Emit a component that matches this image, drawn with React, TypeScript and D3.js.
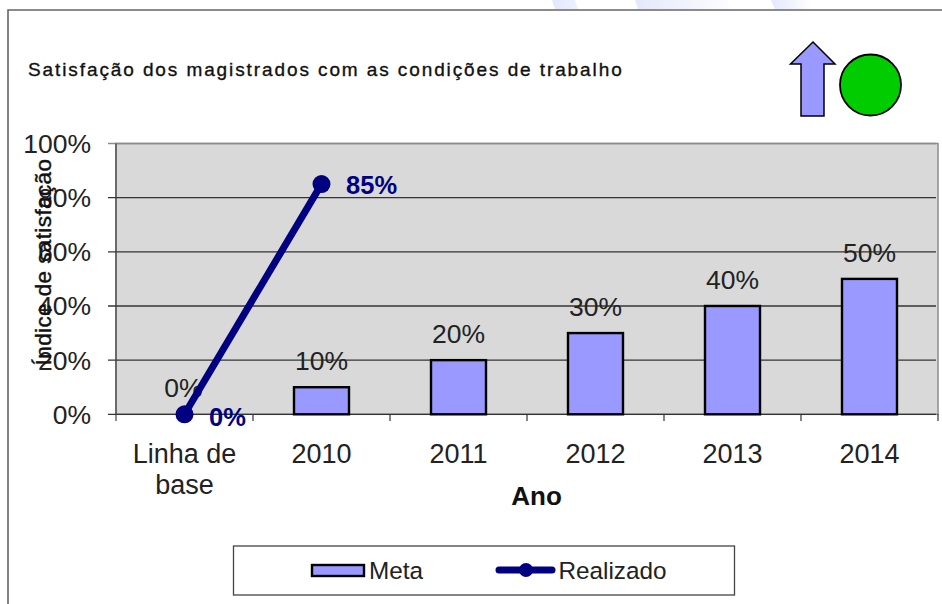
import React from "react";
import * as d3 from "d3";

const categories = ["Linha de base", "2010", "2011", "2012", "2013", "2014"];
const categoryLines = [["Linha de", "base"], ["2010"], ["2011"], ["2012"], ["2013"], ["2014"]];
const metaValues = [0, 10, 20, 30, 40, 50];
const realizadoValues = [0, 85];
const yTicks = [0, 20, 40, 60, 80, 100];
const titleText = "Satisfação dos magistrados com as condições de trabalho";
const yAxisTitle = "Índice de satisfação";
const xAxisTitle = "Ano";
const legendLabels = ["Meta", "Realizado"];

const NAVY = "#000080";
const BAR = "#9999ff";
const FONT = "Arial, 'Liberation Sans', sans-serif";

export default function App() {
  const x = d3.scaleBand().domain(categories).range([116, 938]).padding(0);
  const y = d3.scaleLinear().domain([0, 100]).range([414.3, 143.5]);
  const barW = 55;
  const cx = (i: number) => x(categories[i])! + x.bandwidth() / 2;
  const line = d3
    .line<number>()
    .x((_, i) => cx(i))
    .y((d) => y(d));
  return (
    <svg
      width={942}
      height={604}
      style={{ position: "absolute", left: 0, top: 0, background: "#fff", fontFamily: FONT }}
    >
      <defs>
        <linearGradient id="fade1" x1="0" x2="1" y1="0" y2="0">
          <stop offset="0" stopColor="#e2e7fb" />
          <stop offset="1" stopColor="#eef1fd" />
        </linearGradient>
        <linearGradient id="fade2" x1="0" x2="1" y1="0" y2="0">
          <stop offset="0" stopColor="#e4e8fb" />
          <stop offset="1" stopColor="#ffffff" />
        </linearGradient>
      </defs>
      {/* background streaks */}
      <polygon points="552,0 575,0 578,9 555,9" fill="url(#fade1)" />
      <polygon points="635,0 725,0 738,9 638,9" fill="url(#fade2)" />
      <polygon points="771,0 806,0 812,9 775,9" fill="url(#fade2)" />
      {/* outer frame */}
      <path d="M8,604V10H942" fill="none" stroke="#666" strokeWidth={1.6} />
      <text x={28} y={76} fontSize={19} fill="#111" letterSpacing={1.9} stroke="#111" strokeWidth={0.35}>
        {titleText}
      </text>
      {/* arrow and status circle */}
      <polygon
        points="813,42 835,64 824,64 824,116 801,116 801,64 790.5,64"
        fill={BAR}
        stroke="#000"
        strokeWidth={1.5}
      />
      <circle cx={870.5} cy={85} r={30.5} fill="#00cc00" stroke="#000" strokeWidth={1.8} />
      {/* plot */}
      <rect
        x={116}
        y={143.5}
        width={822}
        height={270.8}
        fill="#d9d9d9"
        stroke="#8c8c8c"
        strokeWidth={1.5}
      />
      {yTicks.map((t) => (
        <g key={t}>
          <line x1={108} x2={936} y1={y(t)} y2={y(t)} stroke={t === 100 ? "#8c8c8c" : "#333"} strokeWidth={1.3} />
          <text x={91} y={y(t) + 9.5} fontSize={26.5} textAnchor="end" fill="#222">
            {t}%
          </text>
        </g>
      ))}
      <line x1={116} x2={116} y1={143.5} y2={421} stroke="#444" strokeWidth={1.2} />
      {categories.map((c) => (
        <line key={c} x1={x(c)! + x.bandwidth()} x2={x(c)! + x.bandwidth()} y1={414} y2={421} stroke="#333" strokeWidth={1.2} />
      ))}
      {categoryLines.map((lines, i) =>
        lines.map((l, j) => (
          <text key={l} x={cx(i)} y={463 + j * 30.5} fontSize={27} textAnchor="middle" fill="#222">
            {l}
          </text>
        ))
      )}
      <text x={536.5} y={505} fontSize={26} fontWeight="bold" textAnchor="middle" fill="#111">
        {xAxisTitle}
      </text>
      <text
        transform="translate(51,262) rotate(-90)"
        fontSize={22.5}
        textAnchor="middle"
        fill="#111"
        stroke="#111"
        strokeWidth={0.4}
        letterSpacing={0.4}
      >
        {yAxisTitle}
      </text>
      {/* bars */}
      {metaValues.map((v, i) =>
        v > 0 ? (
          <rect
            key={i}
            x={cx(i) - barW / 2}
            y={y(v)}
            width={barW}
            height={y(0) - y(v)}
            fill={BAR}
            stroke="#000"
            strokeWidth={2.4}
          />
        ) : null
      )}
      {metaValues.map((v, i) => (
        <text key={i} x={cx(i) - (i === 0 ? 1 : 0)} y={y(v) - 17} fontSize={26.5} textAnchor="middle" fill="#222">
          {v}%
        </text>
      ))}
      {/* realised line */}
      <path d={line(realizadoValues)!} fill="none" stroke={NAVY} strokeWidth={7} />
      {realizadoValues.map((v, i) => (
        <circle key={i} cx={cx(i)} cy={y(v)} r={9} fill={NAVY} />
      ))}
      <text x={346} y={194} fontSize={25.5} fontWeight="bold" fill={NAVY}>
        {realizadoValues[1]}%
      </text>
      <text x={209} y={426} fontSize={25.5} fontWeight="bold" fill={NAVY}>
        {realizadoValues[0]}%
      </text>
      {/* legend */}
      <rect x={233.5} y={546} width={501} height={49} fill="#fff" stroke="#444" strokeWidth={1.3} />
      <rect x={312} y={565} width={52} height={11} fill={BAR} stroke="#000" strokeWidth={2.4} />
      <text x={369} y={578.5} fontSize={24.3} fill="#222">
        {legendLabels[0]}
      </text>
      <line x1={499} x2={552} y1={570} y2={570} stroke={NAVY} strokeWidth={7} strokeLinecap="round" />
      <circle cx={526} cy={570} r={7} fill={NAVY} />
      <text x={558.5} y={578.5} fontSize={24.3} fill="#222">
        {legendLabels[1]}
      </text>
    </svg>
  );
}
